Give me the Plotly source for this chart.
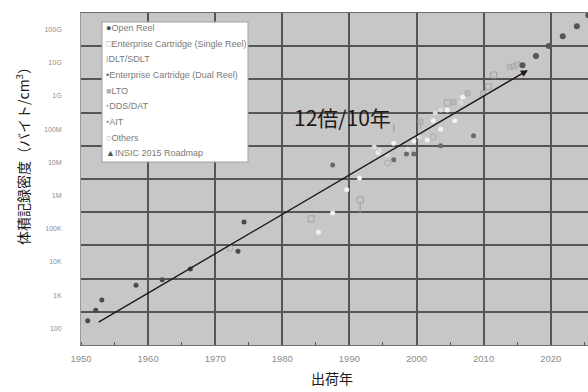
import math
import plotly.graph_objects as go

# Shipment year and volumetric recording density (bytes/cm^3) per media family
open_reel_year = [1951.0, 1952.2, 1953.1, 1958.2, 1962.1, 1966.3, 1973.4, 1974.3]
open_reel_density = [1.7e2, 3.5e2, 7.2e2, 2.0e3, 2.9e3, 6.2e3, 2.1e4, 1.6e5]

single_reel_year = [1984.3, 1991.6, 2004.6, 2010.7, 2011.5]
single_reel_density = [2.0e5, 7.4e5, 6.2e8, 1.9e9, 4.3e9]

dlt_year = [1991.6, 1996.6, 2000.6]
dlt_density = [4.3e5, 1.1e8, 1.35e8]

dual_reel_year = [1987.5, 1996.6, 1998.5, 1999.6, 2003.6, 2008.5]
dual_reel_density = [8.3e6, 1.2e7, 1.8e7, 1.8e7, 3.2e7, 6.3e7]

lto_year = [2000.6, 2005.5, 2007.6, 2009.9, 2013.9, 2014.5, 2015.0]
lto_density = [1.7e8, 6.6e8, 1.2e9, 1.2e9, 7.4e9, 7.9e9, 8.9e9]

dds_year = [1985.4, 1987.5, 1989.6, 1991.5, 1994.3, 1996.6, 1999.6, 2001.6,
            2002.5, 2003.6, 2004.6, 2005.7, 2006.9]
dds_density = [7.9e4, 3.0e5, 1.5e6, 3.4e6, 2.0e7, 3.8e7, 4.4e7, 4.7e7,
               1.8e8, 1.0e8, 3.8e8, 1.8e8, 9.3e8]

ait_year = [1993.7, 1994.5, 1995.6, 1998.7, 2000.4, 2002.8, 2003.6, 2006.6]
ait_density = [2.9e7, 2.3e7, 1.7e7, 2.5e7, 5.9e7, 3.1e8, 3.8e8, 6.2e8]

others_year = [1972.2, 1995.7, 2002.5]
others_density = [2.6e4, 9.5e6, 5.9e7]

insic_year = [2015.8, 2017.8, 2019.7, 2021.8, 2023.9, 2025.6]
insic_density = [8.5e9, 1.6e10, 3.2e10, 6.3e10, 1.26e11, 2.7e11]

# Trend arrow (tail, head) and its label
trend_year = [1952.4, 2016.6]
trend_density = [1.45e2, 6.0e9]
trend_label = "12倍/10年"

# Axis ticks
x_ticks = [1950, 1960, 1970, 1980, 1990, 2000, 2010, 2020]
y_tickvals = [1e2, 1e3, 1e4, 1e5, 1e6, 1e7, 1e8, 1e9, 1e10, 1e11]
y_ticktext = ["100", "1K", "10K", "100K", "1M", "10M", "100M", "1G", "10G", "100G"]

series = [
    ("Open Reel", open_reel_year, open_reel_density,
     dict(symbol="circle", size=5, color="#4a4a4a"), "●", "#4a4a4a"),
    ("Enterprise Cartridge (Single Reel)", single_reel_year, single_reel_density,
     dict(symbol="square-open", size=6, color="#a2a2a2", line=dict(width=1)), "□", "#a2a2a2"),
    ("DLT/SDLT", dlt_year, dlt_density,
     dict(symbol="line-ns-open", size=6, color="#a8a8a8", line=dict(width=1.5, color="#a8a8a8")), "I", "#a8a8a8"),
    ("Enterprise Cartridge (Dual Reel)", dual_reel_year, dual_reel_density,
     dict(symbol="circle", size=5, color="#6a6a6a"), "•", "#6a6a6a"),
    ("LTO", lto_year, lto_density,
     dict(symbol="square", size=5, color="#bababa", line=dict(width=0.8, color="#a6a6a6")), "■", "#b2b2b2"),
    ("DDS/DAT", dds_year, dds_density,
     dict(symbol="circle", size=5, color="#f2f2f2"), "•", "#bdbdbd"),
    ("AIT", ait_year, ait_density,
     dict(symbol="circle", size=5, color="#dadada"), "•", "#a8a8a8"),
    ("Others", others_year, others_density,
     dict(symbol="circle-open", size=6, color="#aaaaaa", line=dict(width=1)), "○", "#aaaaaa"),
    ("INSIC 2015 Roadmap", insic_year, insic_density,
     dict(symbol="circle", size=6, color="#555555"), "▲", "#555555"),
]

fig = go.Figure()
for name, xs, ys, marker, _, _ in series:
    fig.add_trace(go.Scatter(x=xs, y=ys, mode="markers", name=name,
                             marker=marker, showlegend=False))

W, H = 588, 392
L, R, T, B = 81, 0, 13, 47
pw, ph = W - L - R, H - T - B


def px_x(p):
    return (p - L) / pw


def px_y(p):
    return (H - B - p) / ph


annotations = []
shapes = []

# Legend panel
shapes.append(dict(type="rect", xref="paper", yref="paper", layer="above",
                   x0=px_x(102), x1=px_x(248), y0=px_y(162), y1=px_y(22),
                   fillcolor="white", line=dict(color="#a0a0a0", width=1)))
for i, (name, _, _, _, glyph, gcol) in enumerate(series):
    yc = 28.3 + i * 15.6
    annotations.append(dict(
        xref="paper", yref="paper", x=px_x(104), y=px_y(yc),
        xanchor="left", yanchor="middle", showarrow=False,
        text=f"<span style='color:{gcol}'>{glyph}</span>{name}",
        font=dict(family="Liberation Sans, Arial, sans-serif", size=9, color="#7a7a7a")))

# Trend arrow
annotations.append(dict(
    xref="x", yref="y", axref="x", ayref="y",
    x=trend_year[1], y=math.log10(trend_density[1]),
    ax=trend_year[0], ay=math.log10(trend_density[0]),
    showarrow=True, arrowhead=2, arrowsize=1, arrowwidth=1.4,
    arrowcolor="#231815", text=""))
annotations.append(dict(
    xref="x", yref="y", x=1989.0, y=8.37, showarrow=False,
    text=trend_label, xanchor="center", yanchor="middle",
    font=dict(family="Noto Sans CJK JP", size=21, color="#231815")))

# Axis titles
annotations.append(dict(
    xref="paper", yref="paper", x=px_x(22), y=px_y(153), showarrow=False,
    textangle=-90, xanchor="center", yanchor="middle",
    text="体積記録密度（バイト/cm<sup>3</sup>）",
    font=dict(family="Noto Sans CJK JP", size=14, color="#231815")))
annotations.append(dict(
    xref="paper", yref="paper", x=px_x(332), y=px_y(390), showarrow=False,
    xanchor="center", yanchor="bottom", text="出荷年",
    font=dict(family="Noto Sans CJK JP", size=14, color="#231815")))

grid_col = "#555555"
fig.update_layout(
    width=W, height=H, autosize=False,
    margin=dict(l=L, r=R, t=T, b=B, pad=0),
    paper_bgcolor="white", plot_bgcolor="#c7c7c7",
    showlegend=False,
    shapes=shapes, annotations=annotations,
    xaxis=dict(
        range=[1950, 1950 + pw / 6.71], tickmode="array", tickvals=x_ticks,
        ticktext=[str(v) for v in x_ticks],
        showgrid=True, gridcolor=grid_col, gridwidth=1.6,
        zeroline=False, showline=True, linecolor="#6e6e6e", linewidth=1, mirror=True,
        ticks="outside", ticklen=5, tickcolor="rgba(0,0,0,0)",
        tickfont=dict(family="Liberation Sans, Arial, sans-serif", size=9.5, color="#8c8c8c"),
        minor=dict(dtick=5, tick0=1950, ticks="inside", ticklen=3,
                   tickcolor="#555555", tickwidth=1, showgrid=False),
    ),
    yaxis=dict(
        type="log", range=[1.5, 11.5], tickmode="array",
        tickvals=y_tickvals, ticktext=y_ticktext,
        showgrid=False, zeroline=False,
        showline=True, linecolor="#9a9a9a", linewidth=1, mirror=True,
        ticks="outside", ticklen=17, tickcolor="rgba(0,0,0,0)",
        tickfont=dict(family="Liberation Sans, Arial, sans-serif", size=7, color="#8c8c8c"),
        minor=dict(tickvals=[10 ** (k + 0.5) for k in range(2, 11)],
                   showgrid=True, gridcolor=grid_col, gridwidth=1.5, ticks=""),
    ),
)

fig.write_html("out.html")
